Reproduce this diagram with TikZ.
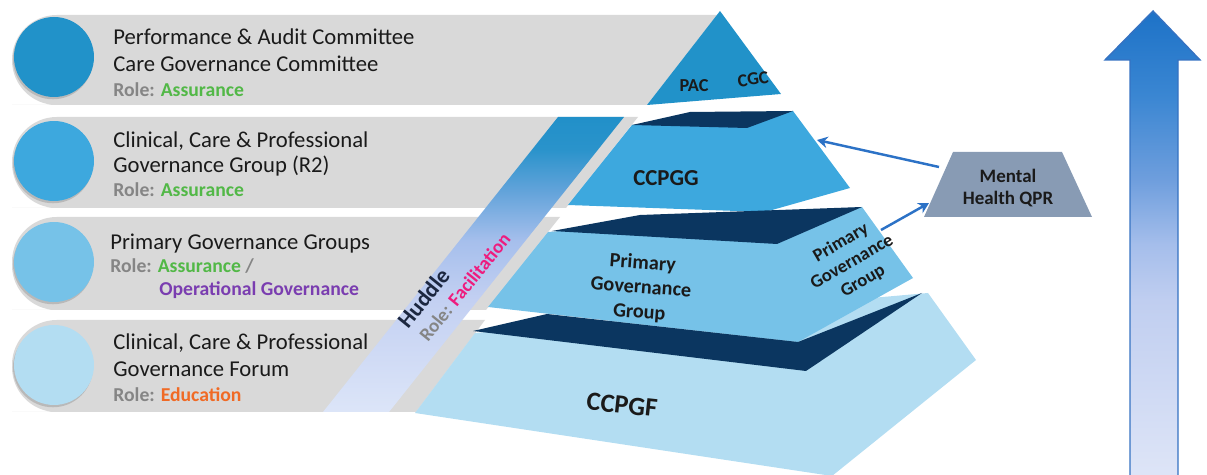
\documentclass[tikz,border=0pt]{standalone}
\usepackage{fontspec}
\setmainfont{Carlito}
\usetikzlibrary{arrows.meta,shadows}

\definecolor{bandgray}{HTML}{D9D9D9}
\definecolor{ink}{HTML}{1A1A1A}
\definecolor{rolegray}{HTML}{858585}
\definecolor{assure}{HTML}{52B847}
\definecolor{opgov}{HTML}{7A3DB0}
\definecolor{educ}{HTML}{F06A25}
\definecolor{facil}{HTML}{EE1C7E}
\definecolor{lvlA}{HTML}{2192C9}
\definecolor{lvlB}{HTML}{3DA8DE}
\definecolor{lvlC}{HTML}{76C2E8}
\definecolor{lvlD}{HTML}{B3DDF2}
\definecolor{navy}{HTML}{0B3660}
\definecolor{qprfill}{HTML}{889BB4}
\definecolor{linkblue}{HTML}{2C72C6}
\definecolor{huddleink}{HTML}{1C2740}
\definecolor{arrowedge}{HTML}{3572C2}
\definecolor{hudA}{HTML}{DCE5F8}
\definecolor{hudB}{HTML}{C3D0F2}
\definecolor{hudC}{HTML}{A6BFEC}
\definecolor{hudD}{HTML}{62A3DA}
\definecolor{hudE}{HTML}{2A93CB}
\definecolor{hudF}{HTML}{2190C9}
\definecolor{upA}{HTML}{DEE5F7}
\definecolor{upB}{HTML}{C0CEF0}
\definecolor{upC}{HTML}{A5BEEB}
\definecolor{upD}{HTML}{6E9EDD}
\definecolor{upE}{HTML}{3A86D2}
\definecolor{upF}{HTML}{1D72C7}

\pgfdeclareverticalshading{huddleshade}{100bp}{color(0bp)=(hudA); color(25bp)=(hudA);
  color(44bp)=(hudB); color(54bp)=(hudC); color(62.5bp)=(hudD); color(69.5bp)=(hudE);
  color(75bp)=(hudF); color(100bp)=(hudF)}
\pgfdeclareverticalshading{upshade}{100bp}{color(0bp)=(upA); color(25bp)=(upA);
  color(44bp)=(upB); color(50bp)=(upC); color(57bp)=(upD); color(66bp)=(upE);
  color(75bp)=(upF); color(100bp)=(upF)}

\begin{document}
\begin{tikzpicture}[x=0.02cm, y=-0.02cm]
    \tikzstyle{band}=[fill=bandgray]
    \tikzstyle{dot}=[circle, minimum size=1.6cm, inner sep=0pt,
      drop shadow={shadow xshift=-0.6pt, shadow yshift=-1.3pt, opacity=0.35}]
    \tikzstyle{title}=[anchor=base west, inner sep=0pt, text=ink, font=\fontsize{12.9}{15}\selectfont]
    \tikzstyle{role}=[anchor=base west, inner sep=0pt, text=rolegray, font=\bfseries\fontsize{11.2}{13}\selectfont]
    \tikzstyle{level}=[inner sep=0pt, align=center, text=ink, font=\bfseries\fontsize{11.5}{14}\selectfont]
    \tikzstyle{face}=[fill=navy]
    \tikzstyle{slant}=[anchor=base west, rotate=51, inner sep=0pt]
    \tikzstyle{link}=[draw=linkblue, line width=1.4pt, -{Stealth[length=6pt,width=6.5pt]}]

    \useasboundingbox (0,0) rectangle (1207,475);

    % grey bands
    \fill[band] (717,15) -- (57,15) [rounded corners=25.5pt] -- (12,15) -- (12,105) -- (57,105) [sharp corners] -- (647,105) -- cycle;
    \fill[band] (638,117) -- (57,117) [rounded corners=25.5pt] -- (12,117) -- (12,208) -- (57,208) [sharp corners] -- (566,208) -- cycle;
    \fill[band] (560,217) -- (57,217) [rounded corners=25.5pt] -- (12,217) -- (12,310) -- (57,310) [sharp corners] -- (486,310) -- cycle;
    \fill[band] (485,320) -- (57,320) [rounded corners=25.5pt] -- (12,320) -- (12,412) -- (57,412) [sharp corners] -- (416,412) -- cycle;

    \node[dot, fill=lvlA] (d1) at (54,57) {};
    \node[dot, fill=lvlB] (d2) at (54,161) {};
    \node[dot, fill=lvlC] (d3) at (54,262) {};
    \node[dot, fill=lvlD] (d4) at (54,365) {};

    \node[title] (pac1) at (113,45) {Performance \& Audit Committee};
    \node[title] (pac2) at (113,72) {Care Governance Committee};
    \node[role] (pacrole) at (113,97) {Role: \textcolor{assure}{Assurance}};

    \node[title] (gg1) at (113,148) {Clinical, Care \& Professional};
    \node[title] (gg2) at (113,173) {Governance Group (R2)};
    \node[role] (ggrole) at (113,197) {Role: \textcolor{assure}{Assurance}};

    \node[title] (pg1) at (110,250) {Primary Governance Groups};
    \node[role] (pgrole) at (110,273) {Role: \textcolor{assure}{Assurance} /};
    \node[role, text=opgov] (pgrole2) at (159,296) {Operational Governance};

    \node[title] (gf1) at (113,350) {Clinical, Care \& Professional};
    \node[title] (gf2) at (113,377) {Governance Forum};
    \node[role] (gfrole) at (113,402) {Role: \textcolor{educ}{Education}};

    % huddle strip
    \shade[shading=huddleshade] (558,117) -- (624,117) -- (389,412) -- (323,412) -- cycle;
    \node[slant, text=huddleink, font=\bfseries\fontsize{13}{15}\selectfont] (huddle) at (408,330) {Huddle};
    \node[slant, text=rolegray, font=\bfseries\fontsize{10.8}{13}\selectfont] (huddlerole) at (428,343) {Role: \textcolor{facil}{Facilitation}};

    % pyramid
    \fill[lvlD] (475,333) -- (928,293) -- (976,360) -- (832,476) -- (415,413) -- cycle;
    \fill[lvlC] (548,232) -- (862,207) -- (913,278) -- (798,342) -- (488,307) -- cycle;
    \fill[face] (473,331) -- (547,314) -- (798,342) -- (922,293) -- (806,371) -- cycle;
    \fill[lvlB] (632,125) -- (793,111) -- (850,188) -- (765,212) -- (568,205) -- cycle;
    \fill[face] (552,231) -- (640,215) -- (862,207) -- (777,244) -- cycle;
    \fill[face] (632,125) -- (690,112) -- (793,111) -- (747,128) -- cycle;
    \fill[lvlA] (720,11) -- (781,94) -- (647,105) -- cycle;

    \node[level, font=\bfseries\fontsize{10.4}{12}\selectfont] (pac) at (694,86) {PAC};
    \node[level, rotate=8, font=\bfseries\fontsize{10.4}{12}\selectfont] (cgc) at (753,79) {CGC};
    \node[level, font=\bfseries\fontsize{13}{15}\selectfont] (ccpgg) at (666,178) {CCPGG};
    \node[level, rotate=-4] (pgg) at (641,288) {Primary\\Governance\\Group};
    \node[level, rotate=30, font=\bfseries\fontsize{10.5}{12.5}\selectfont] (pggside) at (852,262) {Primary\\Governance\\Group};
    \node[level, rotate=-6, font=\bfseries\fontsize{15}{17}\selectfont] (ccpgf) at (622,405) {CCPGF};

    % mental health QPR
    \fill[qprfill] (953,152) -- (1062,152) -- (1092,217) -- (924,217) -- cycle;
    \node[level, font=\bfseries\fontsize{10.8}{12.5}\selectfont] (qpr) at (1008,188) {Mental\\Health QPR};

    \coordinate (ggedge) at (817,140);
    \coordinate (qprleft) at (939,167);
    \coordinate (pgface) at (881,230);
    \coordinate (qprlow) at (929,203);
    \draw[link] (qprleft) -- (ggedge);
    \draw[link] (pgface) -- (qprlow);

    % big arrow
    \path[draw=arrowedge, line width=0.8pt, shading=upshade]
      (1130,478) -- (1130,60) -- (1105,60) -- (1153,11) -- (1200,60) -- (1178,60) -- (1178,478);
\end{tikzpicture}
\end{document}
